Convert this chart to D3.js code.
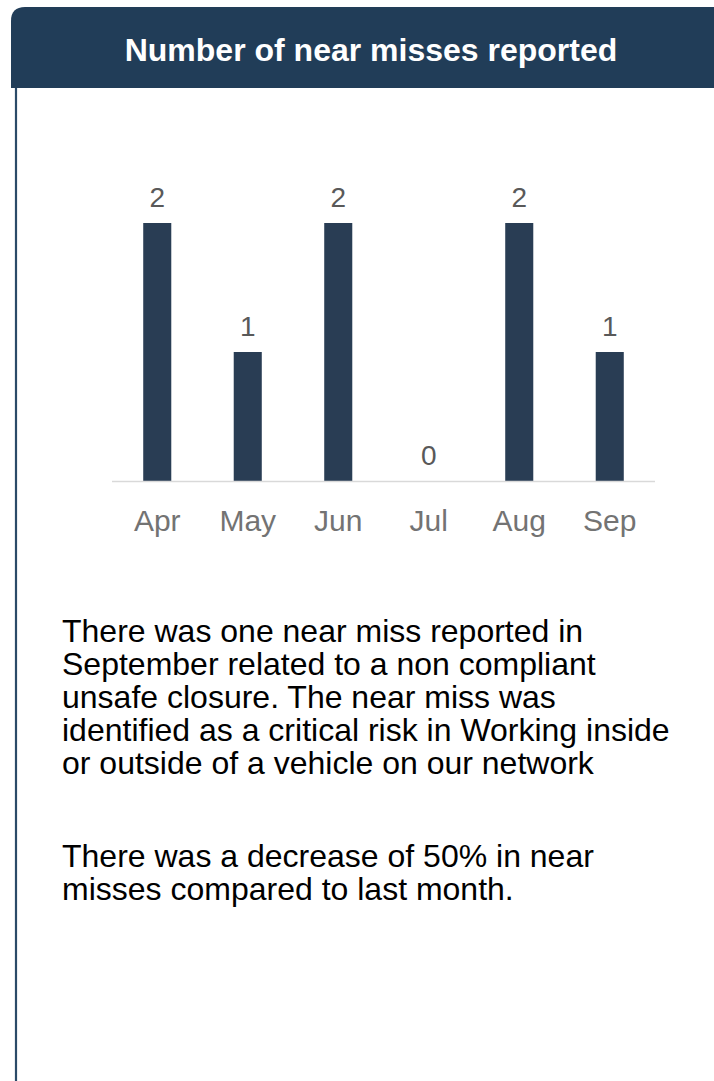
<!DOCTYPE html>
<html><head><meta charset="utf-8">
<script src="https://cdn.jsdelivr.net/npm/d3@7"></script>
<style>html,body{margin:0;padding:0;background:#fff;overflow:hidden}</style>
</head><body>
<svg id="c" width="714" height="1081"></svg>
<script>
const title = "Number of near misses reported";
const months = ["Apr","May","Jun","Jul","Aug","Sep"];
const nearMisses = [2,1,2,0,2,1];
const para1 = ["There was one near miss reported in","September related to a non compliant","unsafe closure. The near miss was","identified as a critical risk in Working inside","or outside of a vehicle on our network"];
const para2 = ["There was a decrease of 50% in near","misses compared to last month."];

const svg = d3.select("#c");
const font = "'Liberation Sans', Arial, sans-serif";

// card frame
svg.append("line").attr("x1",16).attr("x2",16).attr("y1",80).attr("y2",1081)
  .attr("stroke","#2b4a68").attr("stroke-width",2.2);
svg.append("path")
  .attr("d","M11,88 L11,21 Q11,7 25,7 L720,7 L720,88 Z")
  .attr("fill","#213d58");
svg.append("text").attr("x",371).attr("y",61).attr("text-anchor","middle")
  .attr("font-family",font).attr("font-weight","bold").attr("font-size",32)
  .attr("fill","#fff").text(title);

const x = d3.scaleBand().domain(months).range([112,655]).paddingInner(0.69).paddingOuter(0.345);
const y = d3.scaleLinear().domain([0,2]).range([481,223]);

svg.append("g").selectAll("rect").data(nearMisses).join("rect")
  .attr("x",(d,i)=>x(months[i])).attr("width",x.bandwidth())
  .attr("y",d=>y(d)).attr("height",d=>y(0)-y(d))
  .attr("fill","#293d54");

svg.append("line").attr("x1",112).attr("x2",655).attr("y1",y(0)+0.5).attr("y2",y(0)+0.5)
  .attr("stroke","#d9d9d9").attr("stroke-width",1.5);

svg.append("g").selectAll("text").data(nearMisses).join("text")
  .attr("x",(d,i)=>x(months[i])+x.bandwidth()/2).attr("y",d=>y(d)-16)
  .attr("text-anchor","middle").attr("font-family",font).attr("font-size",28)
  .attr("fill","#595959").text(d=>d);

const ax = svg.append("g").attr("transform",`translate(0,${y(0)})`)
  .call(d3.axisBottom(x).tickSize(0).tickPadding(0));
ax.select(".domain").remove();
ax.selectAll("text").attr("dy",null).attr("y",50).attr("font-family",font).attr("font-size",30).attr("fill","#737373");

const tg = svg.append("g").attr("font-family",font).attr("font-size",32).attr("fill","#000");
tg.selectAll("text.p1").data(para1).join("text").attr("class","p1")
  .attr("x",62).attr("y",(d,i)=>642+i*33).text(d=>d);
tg.selectAll("text.p2").data(para2).join("text").attr("class","p2")
  .attr("x",62).attr("y",(d,i)=>867+i*33).text(d=>d);
</script>
</body></html>
